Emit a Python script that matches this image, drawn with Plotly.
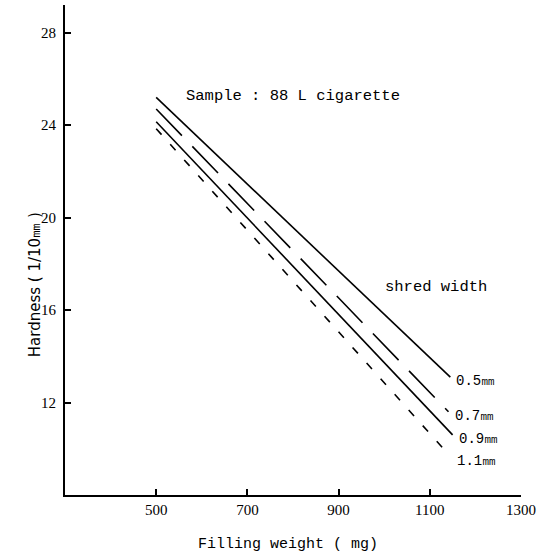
import plotly.graph_objects as go

shred_widths = ["0.5㎜", "0.7㎜", "0.9㎜", "1.1㎜"]
filling_weight_start = [500, 500, 500, 500]
filling_weight_end = [1145, 1141, 1150, 1146]
hardness_start = [25.2, 24.7, 24.15, 23.85]
hardness_end = [13.1, 11.6, 10.6, 9.65]
dashes = ["solid", "37px,15px", "solid", "8px,13px"]

x_ticks = [500, 700, 900, 1100, 1300]
y_ticks = [12, 16, 20, 24, 28]

mono = "Liberation Mono"

fig = go.Figure()
for i, name in enumerate(shred_widths):
    fig.add_trace(go.Scatter(
        x=[filling_weight_start[i], filling_weight_end[i]],
        y=[hardness_start[i], hardness_end[i]],
        mode="lines",
        line=dict(color="black", width=1.6, dash=dashes[i]),
        showlegend=False,
    ))
    fig.add_annotation(
        x=filling_weight_end[i], y=hardness_end[i], text=name,
        xanchor="left", yanchor="middle", xshift=4, yshift=-4, showarrow=False,
        font=dict(family=mono, size=14, color="black"),
    )

fig.add_annotation(x=561, y=25.25, text="Sample : 88 L cigarette", xanchor="left",
                   yanchor="middle", showarrow=False,
                   font=dict(family=mono, size=15.5, color="black"))
fig.add_annotation(x=997, y=17.0, text="shred width", xanchor="left",
                   yanchor="middle", showarrow=False,
                   font=dict(family=mono, size=15.5, color="black"))
fig.add_annotation(xref="paper", yref="paper", x=0.489, y=-0.102,
                   text="Filling weight ( mg)", showarrow=False,
                   xanchor="center", yanchor="middle",
                   font=dict(family=mono, size=15, color="black"))
fig.add_annotation(xref="paper", yref="paper", x=-0.066, y=0.43,
                   text="Hardness ( 1/10㎜ )", showarrow=False, textangle=-90,
                   xanchor="center", yanchor="middle",
                   font=dict(family="DejaVu Sans", size=15, color="black"))

fig.update_xaxes(
    range=[300, 1300], tickvals=x_ticks, ticktext=[str(v) for v in x_ticks],
    ticks="inside", ticklen=6, tickcolor="black", tickwidth=1.5,
    showline=True, linecolor="black", linewidth=2, showgrid=False, zeroline=False,
    tickfont=dict(family="Liberation Serif", size=15, color="black"),
)
fig.update_yaxes(
    range=[8, 29.2], tickvals=y_ticks, ticktext=[str(v) for v in y_ticks],
    ticks="inside", ticklen=6, tickcolor="black", tickwidth=1.5,
    showline=True, linecolor="black", linewidth=2, showgrid=False, zeroline=False,
    ticklabelstandoff=4,
    tickfont=dict(family="Liberation Serif", size=15, color="black"),
)
fig.update_layout(
    width=548, height=559,
    margin=dict(l=65, r=27, t=5, b=64),
    plot_bgcolor="white", paper_bgcolor="white",
)
fig.write_html("out.html")
